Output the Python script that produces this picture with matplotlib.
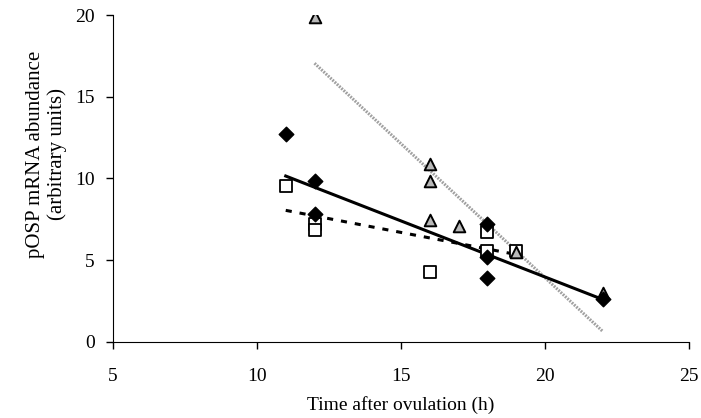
import matplotlib
matplotlib.use("Agg")
import matplotlib.pyplot as plt

plt.rcParams['font.family'] = ['Liberation Serif', 'DejaVu Serif']

# filled diamonds
dia_x = [11, 12, 12, 18, 18, 18, 22]
dia_y = [12.75, 9.85, 7.8, 7.2, 5.2, 3.9, 2.65]
# open squares
sq_x = [11, 12, 12, 16, 18, 18, 19]
sq_y = [9.55, 7.2, 6.85, 4.3, 6.7, 5.55, 5.55]
# grey triangles
tri_x = [12, 16, 16, 16, 17, 19, 22]
tri_y = [19.9, 10.9, 9.85, 7.45, 7.1, 5.5, 3.0]

# trend lines (end points)
dia_fit_x = [11, 22]
dia_fit_y = [10.15, 2.6]
sq_fit_x = [11, 19]
sq_fit_y = [8.05, 5.35]
tri_fit_x = [12, 22]
tri_fit_y = [17.05, 0.65]

x_ticks = [5, 10, 15, 20, 25]
y_ticks = [0, 5, 10, 15, 20]

fig = plt.figure(figsize=(7.01, 4.18), dpi=100)
ax = fig.add_axes([0.161, 0.182, 0.822, 0.782])

ax.plot(tri_fit_x, tri_fit_y, color='#a0a0a0', lw=2.2, ls=(0, (0.6, 0.4)), zorder=2)
ax.plot(dia_fit_x, dia_fit_y, color='black', lw=2.2, zorder=2)
ax.plot(sq_fit_x, sq_fit_y, color='black', lw=2.2, ls=(0, (2.0, 2.6)), zorder=2)

ax.scatter(sq_x, sq_y, marker='s', s=70, facecolor='white', edgecolor='black', linewidth=1.3, zorder=3)
ax.scatter(tri_x, tri_y, marker='^', s=70, facecolor='#b8b8b8', edgecolor='black', linewidth=1.4, zorder=4)
ax.scatter(dia_x, dia_y, marker='D', s=55, facecolor='black', edgecolor='black', zorder=5)

ax.set_xlim(5, 25)
ax.set_ylim(0, 20)
ax.set_xticks(x_ticks)
ax.set_yticks(y_ticks)
ax.spines['top'].set_visible(False)
ax.spines['right'].set_visible(False)
ax.tick_params(labelsize=14, length=5, width=1, direction='out')
ax.tick_params(axis='x', pad=14)
ax.tick_params(axis='y', pad=8)
ax.set_xlabel('Time after ovulation (h)', fontsize=14, labelpad=8)
ax.set_ylabel('pOSP mRNA abundance\n(arbitrary units)', fontsize=15, linespacing=1.15)
ax.yaxis.set_label_coords(-0.08, 0.575)

fig.savefig('out.png', dpi=100)
